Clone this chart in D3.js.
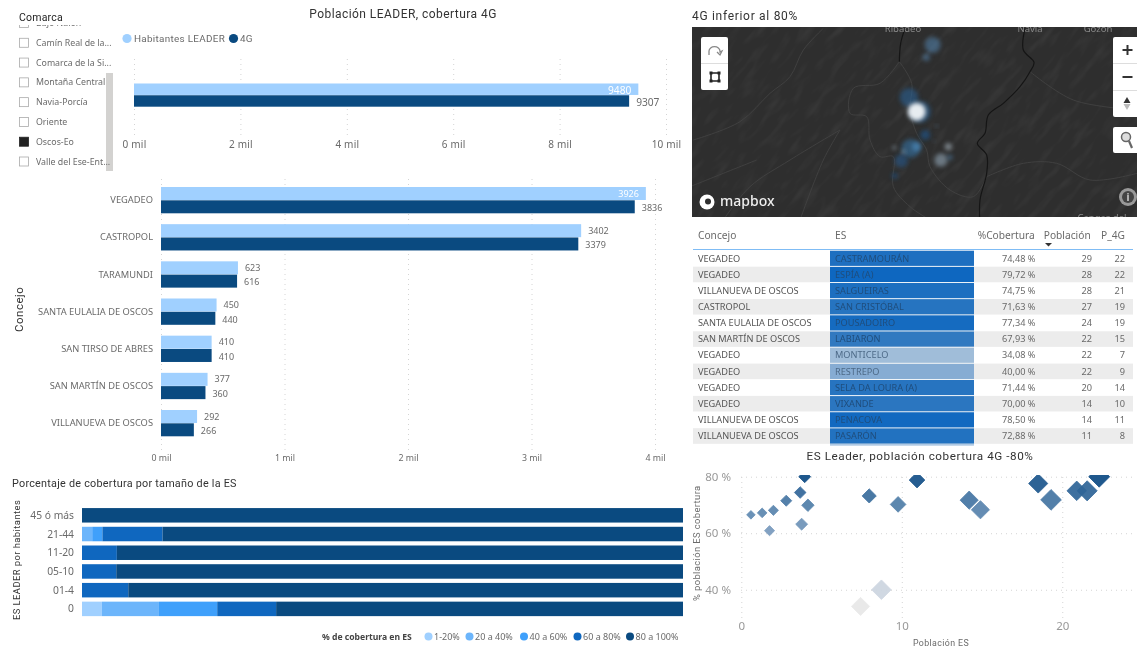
<!DOCTYPE html>
<html><head><meta charset="utf-8">
<script src="https://d3js.org/d3.v7.min.js"></script>
<style>
html,body{margin:0;padding:0;background:#fff;overflow:hidden}
svg{display:block;filter:blur(.45px)}
text{font-family:"Noto Sans",sans-serif}
.din{font-family:Roboto,sans-serif}
.axis path,.axis line{display:none}
.grid line{stroke:#d4d4d4;stroke-width:1;stroke-dasharray:1 4}
.grid path{display:none}
</style></head><body><div id="c"></div>
<script>
// ---- data
const comarcas=["Bajo Nalón","Camín Real de la...","Comarca de la Si...","Montaña Central","Navia-Porcía","Oriente","Oscos-Eo","Valle del Ese-Ent..."];
const comarcaSel="Oscos-Eo";
const totalSeries=["Habitantes LEADER","4G"];
const totalValues=[9480,9307];
const totalTicks=[0,2000,4000,6000,8000,10000];
const concejos=["VEGADEO","CASTROPOL","TARAMUNDI","SANTA EULALIA DE OSCOS","SAN TIRSO DE ABRES","SAN MARTÍN DE OSCOS","VILLANUEVA DE OSCOS"];
const habitantes=[3926,3402,623,450,410,377,292];
const cobertura4G=[3836,3379,616,440,410,360,266];
const concejoTicks=[0,1000,2000,3000,4000];
const sizes=["45 ó más","21-44","11-20","05-10","01-4","0"];
const bands=["1-20%","20 a 40%","40 a 60%","60 a 80%","80 a 100%"];
const band1=[0,0,0,0,0,3.3];
const band2=[0,1.7,0,0,0,9.5];
const band3=[0,1.7,0,0,0,9.7];
const band4=[0,10,5.8,5.7,7.7,9.8];
const band5=[100,86.6,94.2,94.3,92.3,67.7];
const tableConcejo=["VEGADEO","VEGADEO","VILLANUEVA DE OSCOS","CASTROPOL","SANTA EULALIA DE OSCOS","SAN MARTÍN DE OSCOS","VEGADEO","VEGADEO","VEGADEO","VEGADEO","VILLANUEVA DE OSCOS","VILLANUEVA DE OSCOS"];
const tableES=["CASTRAMOURÁN","ESPÍA (A)","SALGUEIRAS","SAN CRISTÓBAL","POUSADOIRO","LABIARON","MONTICELO","RESTREPO","SELA DA LOURA (A)","VIXANDE","PENACOVA","PASARÓN"];
const tableCob=[74.48,79.72,74.75,71.63,77.34,67.93,34.08,40.00,71.44,70.00,78.50,72.88];
const tablePob=[29,28,28,27,24,22,22,22,20,14,14,11];
const tableP4G=[22,22,21,19,19,15,7,9,14,10,11,8];
const scatterPob=[0.6,1.3,2,1.76,2.8,3.67,3.76,4.15,3.95,7.97,9.77,10.95,14.2,14.9,18.5,19.3,20.9,21.55,22.3,7.43,8.73];
const scatterCob=[66.5,67.2,68.1,60.9,71.5,74.4,63.2,69.9,80,73.2,70.2,78.8,71.7,68.3,77.6,71.8,75,75,80,34.1,40];
const scatterPeso=[3,3.8,4.2,4.2,5,5.5,5.8,6.3,5.8,8.2,10,10,13.5,13.5,15,17.5,15.6,16.5,18,13.5,15.6];
// map bubbles and lines, in map units
const bubX=[728,709,657,680,706,740,613,662,680,640,634,614,775,753,780,732,690];
const bubY=[135,172,292,335,405,378,443,445,440,456,482,527,440,480,472,423,335];
const bubR=[24,11,28,27,15,4,6,28,14,6,20,9,11,20,8,3,32];
const bubC=["#4f7ca3","#4f7ca3","#2a5f90","#f2f5f8","#1c548c","#6d94b8","#9fb3c4","#36709f","#4f90c4","#a9bccb","#255688","#1a4f84","#a9b6c0","#8fa3b2","#4f7ca3","#6d94b8","#2a5f90"];
const riverLines=[[[1005,85],[1000,150],[1032,187],[1020,215],[990,260],[940,310],[895,345],[885,400],[862,430],[890,465],[890,520],[870,600],[870,675]],[[645,85],[632,130],[628,185]]];
const roadLines=[[[10,420],[150,365],[240,280],[300,230],[340,150],[400,85]],[[628,185],[570,250],[490,265],[480,340],[530,350],[540,420],[570,470],[610,470],[610,560],[660,620],[720,660]],[[628,185],[665,250],[660,330],[680,400],[710,450],[720,500],[780,570],[850,590],[890,530]],[[890,530],[1000,490],[1100,490],[1200,540],[1341,520]],[[450,390],[400,480],[330,660]],[[100,660],[180,560],[300,480],[450,390]],[[0,560],[100,520],[200,480]],[[1020,215],[1150,300],[1341,330]]];

const cLight="#a0d0ff",cDark="#0a4a80";
const bandCol=["#a0d0ff","#6cb5fb","#3fa0fb","#0f67bf","#0a4a80"];
const txt="#6a6a6a",dark="#333";

const svg=d3.select("#c").append("svg").attr("width",1137).attr("height",647);
const defs=svg.append("defs");
function clip(id,x,y,w,h){defs.append("clipPath").attr("id",id).append("rect").attr("x",x).attr("y",y).attr("width",w).attr("height",h);}
clip("cSl",0,25,120,150);clip("cMap",692,27,445,190);clip("cSc",741,475,396,145);
const T=(x,y,s,o={})=>{const t=svg.append("text").attr("x",x).attr("y",y).text(s)
 .attr("font-size",o.fs||10).attr("fill",o.c||txt).attr("text-anchor",o.a||"start");
 if(o.din)t.attr("class","din").attr("letter-spacing",o.ls||.55);if(o.w)t.attr("font-weight",o.w);if(o.rot)t.attr("transform",`rotate(-90 ${x} ${y})`);return t;};

// ---- slicer
T(19,21,"Comarca",{fs:10.5,c:"#222",din:1,ls:.2});
const slY=d3.scalePoint().domain(comarcas).range([23,161.5]);
const sl=svg.append("g").attr("clip-path","url(#cSl)");
comarcas.forEach(n=>{const y=slY(n),on=n===comarcaSel;
 sl.append("rect").attr("x",19.5).attr("y",y-4.5).attr("width",9).attr("height",9).attr("fill",on?"#222":"#fff").attr("stroke",on?"#222":"#aaa").attr("stroke-width",.8);
 sl.append("text").attr("x",36).attr("y",y+3).attr("font-size",8.8).attr("fill",txt).text(n);});
svg.insert("rect","g").attr("x",106).attr("y",73).attr("width",7).attr("height",98).attr("fill","#d3d2d0");

// ---- total chart
T(403,18,"Población LEADER, cobertura 4G",{fs:12,a:"middle",c:dark,din:1,ls:.45});
svg.append("circle").attr("cx",127).attr("cy",38.5).attr("r",4.6).attr("fill",cLight);
T(134,42,totalSeries[0],{fs:9.9,din:1,ls:.3});
svg.append("circle").attr("cx",233.5).attr("cy",38.5).attr("r",4.6).attr("fill",cDark);
T(240,42,totalSeries[1],{fs:9.9,din:1,ls:.3});
const xT=d3.scaleLinear().domain([0,10000]).range([134,666]);
svg.append("g").attr("class","grid").attr("transform","translate(0,135)").call(d3.axisBottom(xT).tickValues(totalTicks).tickSize(-78).tickFormat(""));
svg.append("g").attr("class","axis").attr("transform","translate(0,138)").call(d3.axisBottom(xT).tickValues(totalTicks).tickSize(0).tickFormat(d=>d/1000+" mil"))
 .call(g=>g.selectAll("text").attr("fill",txt).attr("font-size",10).attr("letter-spacing",.2).attr("font-family","Noto Sans"));
const yT=d3.scaleBand().domain(totalSeries).range([83.5,107]);
totalSeries.forEach((s,i)=>{
 svg.append("rect").attr("x",xT(0)).attr("y",yT(s)).attr("width",xT(totalValues[i])-xT(0)).attr("height",yT.bandwidth()-.3).attr("fill",i?cDark:cLight);});
T(xT(totalValues[0])-7,94,totalValues[0],{fs:10.2,c:"#fff",a:"end"});
T(xT(totalValues[1])+7,106,totalValues[1],{fs:10.2});

// ---- concejos chart
const xC=d3.scaleLinear().domain([0,4000]).range([161,655]);
svg.append("g").attr("class","grid").attr("transform","translate(0,450)").call(d3.axisBottom(xC).tickValues(concejoTicks).tickSize(-275).tickFormat(""));
svg.append("g").attr("class","axis").attr("transform","translate(0,452)").call(d3.axisBottom(xC).tickValues(concejoTicks).tickSize(0).tickFormat(d=>d/1000+" mil"))
 .call(g=>g.selectAll("text").attr("fill",txt).attr("font-size",8.8).attr("font-family","Noto Sans"));
const yC=d3.scalePoint().domain(concejos).range([200,423]);
concejos.forEach((n,i)=>{const y=yC(n);
 svg.append("rect").attr("x",xC(0)).attr("y",y-13).attr("width",xC(habitantes[i])-xC(0)).attr("height",13).attr("fill",cLight);
 svg.append("rect").attr("x",xC(0)).attr("y",y+.3).attr("width",xC(cobertura4G[i])-xC(0)).attr("height",13).attr("fill",cDark);
 T(153,y+3.2,n,{fs:9.3,a:"end"});
 if(habitantes[i]>3500)T(xC(habitantes[i])-7,y-3,habitantes[i],{fs:9,c:"#fff",a:"end"});
 else T(xC(habitantes[i])+7,y-3.5,habitantes[i],{fs:9});
 T(xC(cobertura4G[i])+7,y+11,cobertura4G[i],{fs:9});
});
T(23,332,"Concejo",{fs:11.5,c:dark,rot:1,din:1,ls:.5});

// ---- stacked
T(12,487,"Porcentaje de cobertura por tamaño de la ES",{fs:10.8,c:dark,din:1,ls:.25});
T(20,620,"ES LEADER por habitantes",{fs:9.4,c:dark,rot:1,din:1,ls:.45});
const xS=d3.scaleLinear().domain([0,100]).range([82,683]);
const yS=d3.scaleBand().domain(sizes).range([506.2,618]).paddingInner(.226).paddingOuter(.1);
const rows=sizes.map((s,i)=>({size:s,"1-20%":band1[i],"20 a 40%":band2[i],"40 a 60%":band3[i],"60 a 80%":band4[i],"80 a 100%":band5[i]}));
const stack=d3.stack().keys(bands)(rows);
stack.forEach((ser,k)=>ser.forEach(d=>{
 if(d[1]-d[0]<=0)return;
 svg.append("rect").attr("x",xS(d[0])).attr("y",yS(d.data.size)).attr("width",xS(d[1])-xS(d[0])).attr("height",yS.bandwidth()).attr("fill",bandCol[k]);}));
sizes.forEach(s=>T(74,yS(s)+yS.bandwidth()/2+3.5,s,{fs:10.3,a:"end"}));
T(322,640,"% de cobertura en ES",{fs:8.6,c:"#444",w:700});
const legX=d3.scaleOrdinal().domain(bands).range([428.5,469.5,524,577.5,630]);
bands.forEach((b,i)=>{
 svg.append("circle").attr("cx",legX(b)).attr("cy",636.5).attr("r",4).attr("fill",bandCol[i]);
 T(legX(b)+5.5,640,b,{fs:9});});

// ---- map
T(692,20,"4G inferior al 80%",{fs:12,c:dark,din:1,ls:.7});
const mx=d3.scaleLinear().domain([0,1341]).range([690,1137]),my=d3.scaleLinear().domain([0,675]).range([0,225]);
const f=defs.append("filter").attr("id","terr").attr("x",0).attr("y",0).attr("width","100%").attr("height","100%");
f.append("feTurbulence").attr("type","fractalNoise").attr("baseFrequency","0.04 0.13").attr("numOctaves",2).attr("seed",11);
f.append("feColorMatrix").attr("values","0 0 0 0 .55  0 0 0 0 .55  0 0 0 0 .55  2 0 0 0 -.95");
const bl=defs.append("filter").attr("id","bub").attr("x","-60%").attr("y","-60%").attr("width","220%").attr("height","220%");
bl.append("feGaussianBlur").attr("stdDeviation",2);
const m=svg.append("g").attr("clip-path","url(#cMap)");
m.append("rect").attr("x",692).attr("y",27).attr("width",445).attr("height",190).attr("fill","#2e2e2e");
m.append("rect").attr("x",500).attr("y",-300).attr("width",800).attr("height",800).attr("transform","rotate(-50 915 120)").attr("filter","url(#terr)").attr("opacity",.08);
const ln=d3.line().x(d=>mx(d[0])).y(d=>my(d[1])).curve(d3.curveCatmullRom);
m.selectAll(".rd").data(roadLines).join("path").attr("d",ln).attr("fill","none").attr("stroke","#424242").attr("stroke-width",.9);
m.selectAll(".rv").data(riverLines).join("path").attr("d",ln).attr("fill","none").attr("stroke","#151515").attr("stroke-width",1.2);
const order=d3.range(bubX.length).sort((a,b)=>(bubC[a]==="#f2f5f8")-(bubC[b]==="#f2f5f8"));
order.forEach(i=>m.append("circle").attr("cx",mx(bubX[i])).attr("cy",my(bubY[i])).attr("r",my(bubR[i])).attr("fill",bubC[i]).attr("opacity",bubC[i]==="#f2f5f8"?.95:.62).attr("filter","url(#bub)"));
[["Ribadeo",903,32],["Navia",1030,32],["Gozón",1098,32],["Cangas del",1102,221]].forEach(d=>m.append("text").attr("x",d[1]).attr("y",d[2]).attr("text-anchor","middle").attr("font-size",9.5).attr("fill","#8a8a8a").text(d[0]));
const btn=(x,y,w,h)=>svg.append("rect").attr("x",x).attr("y",y).attr("width",w).attr("height",h).attr("rx",2).attr("fill","#fff");
btn(701,37,27,53);btn(1113,37,26,80);btn(1113,127,26,26);
svg.append("line").attr("x1",701).attr("x2",728).attr("y1",63.5).attr("y2",63.5).attr("stroke","#ddd");
[63.5,90.5].forEach(y=>svg.append("line").attr("x1",1113).attr("x2",1137).attr("y1",y).attr("y2",y).attr("stroke","#ddd"));
svg.append("path").attr("d","M709 55v-4a5 4 0 0 1 11 0v1l2-1l-2 4l-3-3").attr("fill","none").attr("stroke","#888").attr("stroke-width",1.3);
svg.append("path").attr("d","M711 73h8v8h-8z").attr("fill","none").attr("stroke","#222").attr("stroke-width",1.6);
svg.append("path").attr("d","M709.5 71.500h3v3h-3zM717.5 71.500h3v3h-3zM709.5 79.500h3v3h-3zM717.5 79.500h3v3h-3z").attr("fill","#222");
svg.append("path").attr("d","M1127.500 45v10M1122.500 50h10M1122.500 77h10").attr("stroke","#333").attr("stroke-width",2);
svg.append("path").attr("d","M1127 97l-3.500 6h7z").attr("fill","#333");
svg.append("path").attr("d","M1127 110l-3.500-6h7z").attr("fill","#bbb");
svg.append("circle").attr("cx",1126).attr("cy",137).attr("r",4.500).attr("fill","#ddd").attr("stroke","#666").attr("stroke-width",1.5);
svg.append("line").attr("x1",1129).attr("y1",141).attr("x2",1132).attr("y2",148).attr("stroke","#666").attr("stroke-width",2.2);
svg.append("circle").attr("cx",707).attr("cy",202).attr("r",7.500).attr("fill","#fff");
svg.append("circle").attr("cx",708).attr("cy",201.500).attr("r",3).attr("fill","#2f2f2f");
T(720,206,"mapbox",{fs:14,c:"#eee",w:500});
svg.append("circle").attr("cx",1128).attr("cy",197).attr("r",9).attr("fill","#999");
svg.append("circle").attr("cx",1128).attr("cy",197).attr("r",6).attr("fill","#444");
T(1128,200.5,"i",{fs:10,c:"#ccc",a:"middle",w:700});

// ---- table
const yR=d3.scalePoint().domain(d3.range(tableES.length)).range([258.3,436]);
const esColor=d3.scaleLinear().domain([34,40,68,80]).range(["#a0bdd9","#86acd3","#3179c0","#0d67c0"]);
[["Concejo",698,"start"],["ES",835,"start"],["%Cobertura",1034.7,"end"],["Población",1090.7,"end"],["P_4G",1125,"end"]].forEach(h=>T(h[1],239,h[0],{fs:10.2,a:h[2]}));
svg.append("path").attr("d","M1045 243h7l-3.500 3.500z").attr("fill","#333");
tableES.forEach((es,i)=>{const y=yR(i);
 if(i%2)svg.append("rect").attr("x",693).attr("y",y-7.8).attr("width",440).attr("height",15.6).attr("fill","#ececec");
 svg.append("rect").attr("x",830).attr("y",y-7.6).attr("width",144).attr("height",15.2).attr("fill",esColor(tableCob[i]));
 T(698,y+3.2,tableConcejo[i],{fs:9.2,c:"#555"});
 T(835,y+3.2,es,{fs:9.2,c:tableCob[i]<50?"#4d6a88":"#1f4d7c"});
 T(1035.5,y+3.2,d3.format(".2f")(tableCob[i]).replace(".",",")+" %",{fs:9.2,a:"end"});
 T(1092,y+3.2,tablePob[i],{fs:9.2,a:"end"});
 T(1125,y+3.2,tableP4G[i],{fs:9.2,a:"end"});
});
svg.append("rect").attr("x",830).attr("y",444.300).attr("width",144).attr("height",1.200).attr("fill","#8fb3d8");
svg.append("line").attr("x1",693).attr("x2",1133).attr("y1",249.500).attr("y2",249.500).attr("stroke","#7fbcf5").attr("stroke-width",1);

// ---- scatter
T(920,460,"ES Leader, población cobertura 4G -80%",{fs:11.7,a:"middle",c:dark,din:1});
const xP=d3.scaleLinear().domain([0,24.5]).range([741.3,1134.5]);
const yP=d3.scaleLinear().domain([30,80]).range([618,476.7]);
svg.append("g").attr("class","grid").attr("transform","translate(0,618)").call(d3.axisBottom(xP).tickValues([0,10,20]).tickSize(-142).tickFormat(""));
svg.append("g").attr("class","grid").attr("transform","translate(741,0)").call(d3.axisRight(yP).tickValues([40,60,80]).tickSize(394).tickFormat(""));
svg.append("g").attr("class","axis").attr("transform","translate(0,619)").call(d3.axisBottom(xP).tickValues([0,10,20]).tickSize(0).tickFormat(d=>d))
 .call(g=>g.selectAll("text").attr("fill","#999").attr("font-size",11.5).attr("font-family","Roboto"));
svg.append("g").attr("class","axis").attr("transform","translate(734,0)").call(d3.axisLeft(yP).tickValues([40,60,80]).tickSize(0).tickFormat(d=>d+" %"))
 .call(g=>g.selectAll("text").attr("fill","#999").attr("font-size",11.5).attr("font-family","Roboto"));
T(941,646,"Población ES",{fs:8.8,a:"middle",din:1,ls:.4});
T(700,601,"% población ES cobertura",{fs:9.4,rot:1,din:1,ls:.4});
const col=d3.scaleLinear().domain([34,40,60,70,80]).range(["#e8e8e8","#ccd5e0","#7c9dbf","#507ea9","#0c4a84"]);
const size=d3.scaleSqrt().domain([0,18]).range([0,10.5]);
const sc=svg.append("g").attr("clip-path","url(#cSc)");
scatterPob.forEach((p,i)=>{const r=size(scatterPeso[i]);
 sc.append("path").attr("d",d3.symbol().type(d3.symbolSquare).size(2*r*r)()).attr("transform",`translate(${xP(p)},${yP(scatterCob[i])}) rotate(45)`)
 .attr("fill",col(scatterCob[i])).attr("stroke",col(scatterCob[i])).attr("stroke-width",.8).attr("stroke-linejoin","round").attr("opacity",.92);});
</script></body></html>
